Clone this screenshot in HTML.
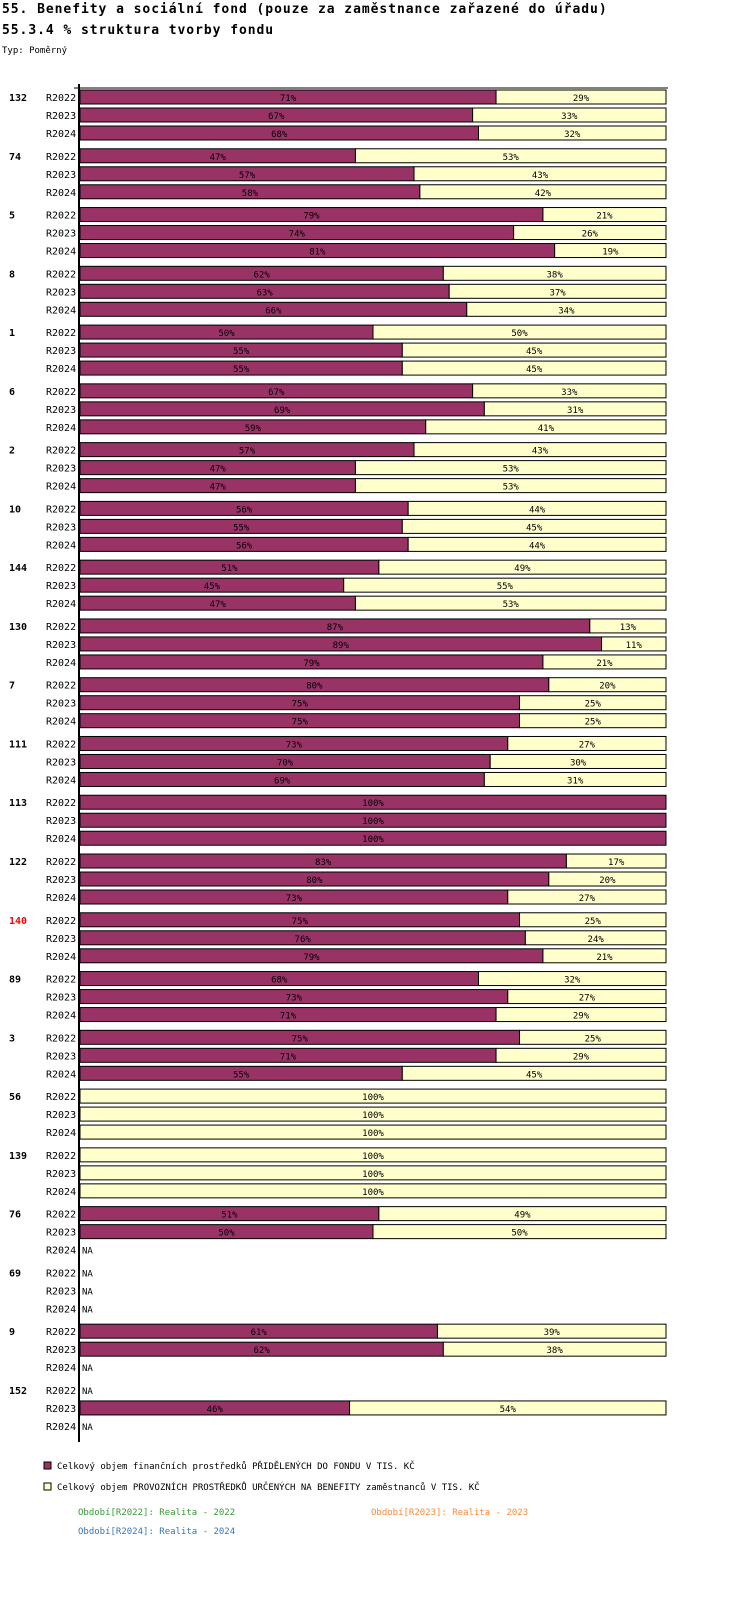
<!DOCTYPE html>
<html><head><meta charset="utf-8"><style>
body{margin:0;background:#fff;width:750px;height:1602px;overflow:hidden;font-family:"DejaVu Sans Mono","Liberation Mono",monospace;}
svg text{font-family:"DejaVu Sans Mono","Liberation Mono",monospace;}
</style></head><body>
<svg width="750" height="1602" xmlns="http://www.w3.org/2000/svg" id="chart">
<text x="2" y="13" font-size="13" font-weight="bold" letter-spacing="0.95">55. Benefity a sociální fond (pouze za zaměstnance zařazené do úřadu)</text>
<text x="2" y="34" font-size="13" font-weight="bold" letter-spacing="0.95">55.3.4 % struktura tvorby fondu</text>
<text x="2" y="53" font-size="9">Typ: Poměrný</text>
<line x1="79" y1="84" x2="79" y2="1442" stroke="#000" stroke-width="2"/>
<line x1="74" y1="88" x2="668" y2="88" stroke="#000" stroke-width="1"/>
<g id="bars"></g>
<rect x="44" y="1462" width="7" height="7" fill="#993366" stroke="#000"/>
<text x="57" y="1469" font-size="9">Celkový objem finančních prostředků PŘIDĚLENÝCH DO FONDU V TIS. KČ</text>
<rect x="44" y="1483" width="7" height="7" fill="#ffffcc" stroke="#000"/>
<text x="57" y="1490" font-size="9">Celkový objem PROVOZNÍCH PROSTŘEDKŮ URČENÝCH NA BENEFITY zaměstnanců V TIS. KČ</text>
<text x="78" y="1515" font-size="9" fill="#339933">Období[R2022]: Realita - 2022</text>
<text x="371" y="1515" font-size="9" fill="#ff8833">Období[R2023]: Realita - 2023</text>
<text x="78" y="1534" font-size="9" fill="#3377bb">Období[R2024]: Realita - 2024</text>
</svg>
<script>
const groups=["132","74","5","8","1","6","2","10","144","130","7","111","113","122","140","89","3","56","139","76","69","9","152"];
const periods=["R2022","R2023","R2024"];
const share2022=[71,47,79,62,50,67,57,56,51,87,80,73,100,83,75,68,75,0,0,51,null,61,null];
const share2023=[67,57,74,63,55,69,47,55,45,89,75,70,100,80,76,73,71,0,0,50,null,62,46];
const share2024=[68,58,81,66,55,59,47,56,47,79,75,69,100,73,79,71,55,0,0,null,null,null,null];
const highlighted=["140"];
const series=[share2022,share2023,share2024];
const NS="http://www.w3.org/2000/svg";
const g=document.getElementById('bars');
const x0=80,x1=666;
const xs=v=>x0+(x1-x0)*v/100;
const yRow=(gi,pi)=>97+gi*58.77+pi*18;
function mk(t,a){const e=document.createElementNS(NS,t);for(const k in a)e.setAttribute(k,a[k]);g.appendChild(e);return e;}
groups.forEach((name,gi)=>{
  const t=mk('text',{x:9,y:yRow(gi,0)+4,'font-size':10,'font-weight':'bold',fill:highlighted.includes(name)?'#ff0000':'#000'});
  t.textContent=name;
  
  
  periods.forEach((p,pi)=>{
    const y=yRow(gi,pi);
    const pl=mk('text',{x:46,y:y+4,'font-size':10});
    pl.textContent=p;
    
    
    const v=series[pi][gi];
    if(v===null){
      const na=mk('text',{x:82,y:y+4,'font-size':9});
      na.textContent='NA';
      
      
      return;
    }
    const xm=xs(v);
    if(v>0){
      const r=mk('rect',{x:x0,y:y-7,width:xm-x0,height:14,fill:'#993366',stroke:'#000','stroke-width':1});
      
      
      const tl=mk('text',{x:(x0+xm)/2,y:y+4,'font-size':9,'text-anchor':'middle'});
      tl.textContent=v+'%';
      
      
    }
    if(v<100){
      const r=mk('rect',{x:xm,y:y-7,width:x1-xm,height:14,fill:'#ffffcc',stroke:'#000','stroke-width':1});
      
      
      const tl=mk('text',{x:(xm+x1)/2,y:y+4,'font-size':9,'text-anchor':'middle'});
      tl.textContent=(100-v)+'%';
      
      
    }
  });
});
</script>
</body></html>
